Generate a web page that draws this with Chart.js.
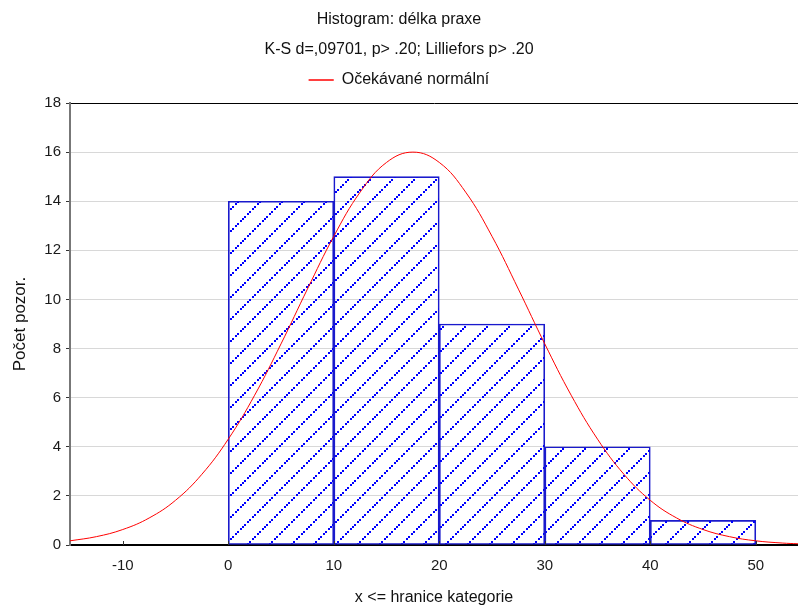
<!DOCTYPE html>
<html lang="cs">
<head>
    <meta charset="UTF-8">
    <title>Histogram: délka praxe</title>
    <script src="https://cdn.jsdelivr.net/npm/chart.js"></script>
    <style>
        html, body { margin: 0; padding: 0; background: #fff; }
        canvas { display: block; }
    </style>
</head>
<body>
    <canvas id="histChart" width="798" height="605"></canvas>

    <script>
        // histogram bins (upper edges 10..50), centres and counts
        const binCenters = [5, 15, 25, 35, 45];
        const counts = [14, 15, 9, 4, 1];

        // expected normal curve, sampled every 2.5 years
        const curveX = [-15, -12.5, -10, -7.5, -5, -2.5, 0, 2.5, 5, 7.5, 10, 12.5, 15, 17.5,
                        20, 22.5, 25, 27.5, 30, 32.5, 35, 37.5, 40, 42.5, 45, 47.5, 50, 52.5, 54];
        const curveY = [0.17, 0.34, 0.63, 1.10, 1.82, 2.88, 4.31, 6.10, 8.19, 10.42, 12.57, 14.37, 15.58, 16.0,
                        15.58, 14.37, 12.57, 10.42, 8.19, 6.10, 4.31, 2.88, 1.82, 1.10, 0.63, 0.34, 0.17, 0.08, 0.05];

        const xTicks = [-10, 0, 10, 20, 30, 40, 50];

        const titleLines = ['Histogram: délka praxe', 'K-S d=,09701, p> .20; Lilliefors p> .20'];

        const FONT = "'Liberation Sans', Arial, sans-serif";

        // blue dotted diagonal hatch
        function makeHatch() {
            const s = 22;
            const c = document.createElement('canvas');
            c.width = s; c.height = s;
            const g = c.getContext('2d');
            g.fillStyle = '#0000ff';
            [0, 2, 5, 7, 10, 12, 15, 17, 20].forEach(i => {
                g.fillRect(i, s - 2 - i, 2, 2);
            });
            return g.createPattern(c, 'repeat');
        }

        // small inward tick marks on the x axis
        const xTickMarks = {
            id: 'xTickMarks',
            afterDatasetsDraw(chart) {
                const x = chart.scales.x;
                const ctx = chart.ctx;
                ctx.save();
                ctx.strokeStyle = '#333';
                ctx.lineWidth = 1;
                xTicks.forEach(v => {
                    const px = Math.round(x.getPixelForValue(v)) + 0.5;
                    ctx.beginPath();
                    ctx.moveTo(px, x.top);
                    ctx.lineTo(px, x.top - 4);
                    ctx.stroke();
                });
                ctx.restore();
            }
        };

        const ctx = document.getElementById('histChart').getContext('2d');
        const histChart = new Chart(ctx, {
            type: 'bar',
            data: {
                datasets: [
                    {
                        type: 'line',
                        label: 'Očekávané normální',
                        data: curveX.map((x, i) => ({ x: x, y: curveY[i] })),
                        borderColor: '#ff0000',
                        backgroundColor: '#ff0000',
                        borderWidth: 1,
                        pointRadius: 0,
                        tension: 0.4,
                        order: 0
                    },
                    {
                        label: 'délka praxe',
                        data: binCenters.map((x, i) => ({ x: x, y: counts[i] })),
                        backgroundColor: makeHatch(),
                        borderColor: '#1a1acc',
                        borderWidth: 1,
                        borderSkipped: false,
                        barPercentage: 1,
                        categoryPercentage: 1,
                        order: 1
                    }
                ]
            },
            options: {
                responsive: false,
                animation: false,
                layout: { padding: 0 },
                plugins: {
                    title: {
                        display: true,
                        text: titleLines,
                        color: '#111',
                        font: { family: FONT, size: 16, weight: 'normal', lineHeight: '30px' },
                        padding: { top: 5, bottom: -3 }
                    },
                    // empty spacer between the legend and the plot
                    subtitle: {
                        display: true,
                        text: '',
                        weight: 500,
                        font: { size: 1, lineHeight: 1 },
                        padding: { top: 4, bottom: 0 }
                    },
                    legend: {
                        display: true,
                        labels: {
                            color: '#111',
                            font: { family: FONT, size: 16 },
                            boxWidth: 25,
                            boxHeight: 0,
                            padding: 10,
                            filter: item => item.datasetIndex === 0
                        }
                    },
                    tooltip: { enabled: false }
                },
                scales: {
                    x: {
                        type: 'linear',
                        min: -15,
                        max: 54,
                        offset: false,
                        afterBuildTicks: s => { s.ticks = xTicks.map(v => ({ value: v })); },
                        afterFit: s => { s.height = 60; },
                        grid: { display: false, drawTicks: false },
                        border: { display: true, color: '#000', width: 2 },
                        ticks: {
                            color: '#1a1a1a',
                            font: { family: FONT, size: 15 },
                            padding: 12,
                            maxRotation: 0
                        },
                        title: {
                            display: true,
                            text: 'x <= hranice kategorie',
                            color: '#111',
                            font: { family: FONT, size: 16 },
                            padding: { top: 0, bottom: -2 }
                        }
                    },
                    y: {
                        min: 0,
                        max: 18,
                        afterFit: s => { s.width = 70; },
                        grid: {
                            color: c => c.tick && c.tick.value === 18 ? '#000' : '#d8d8d8',
                            tickColor: '#333',
                            tickLength: 4
                        },
                        border: { display: true, color: '#777', width: 2 },
                        ticks: {
                            stepSize: 2,
                            color: '#1a1a1a',
                            font: { family: FONT, size: 15 },
                            padding: 5
                        },
                        title: {
                            display: true,
                            text: 'Počet pozor.',
                            color: '#111',
                            font: { family: FONT, size: 17 },
                            padding: { top: 10, bottom: 0 }
                        }
                    }
                }
            },
            plugins: [xTickMarks]
        });
    </script>
</body>
</html>
